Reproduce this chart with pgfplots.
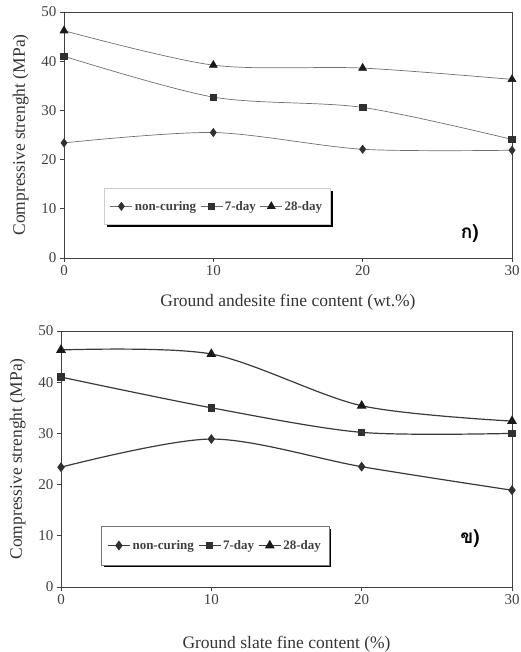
\documentclass[border=0pt]{standalone}
\usepackage{pgfplots}
\pgfplotsset{compat=1.18}
\usepackage{fontspec}
\setmainfont{Liberation Serif}
\newfontfamily\thaifont[Script=Thai]{Loma}
\usetikzlibrary{shadows}
\makeatletter
\tikzset{nopre/.code={\let\tikz@preactions\pgfutil@empty}}
\makeatother
\definecolor{mk}{HTML}{303030}
\definecolor{lnA}{HTML}{6E6E6E}
\definecolor{lnB}{HTML}{3A3A3A}
\begin{document}
\begin{tikzpicture}
\useasboundingbox (0,0) rectangle (520pt,652pt);
\pgfplotsset{
  common/.style={
    scale only axis,
    xmin=0, xmax=30, ymin=0, ymax=50,
    xtick={0,10,20,30}, ytick={0,10,20,30,40,50},
    tick pos=left, tick align=outside,
    major tick length=4pt,
    axis line style={black!75, line width=0.8pt},
    tick style={black!75, line width=0.8pt},
    /pgf/number format/assume math mode=true,
    ticklabel style={font=\fontsize{15}{15}\selectfont, text=black!75},
    label style={font=\fontsize{17.5}{17.5}\selectfont, text=black!80},
    ylabel={Compressive strenght (MPa)},
    legend columns=3,
    legend style={font=\fontsize{13}{13}\selectfont\bfseries, text=black!75,
      inner xsep=6pt, inner ysep=11pt, draw=black!55,
      drop shadow={shadow xshift=2.5pt, shadow yshift=-2.5pt, fill=black, opacity=1},
      /tikz/every even column/.append style={column sep=2pt}},
    legend image code/.code={
      \draw[nopre, #1, mark=none] (0pt,0pt) -- (22pt,0pt);
      \path[nopre, #1, only marks] plot coordinates {(11pt,0pt)};
    },
  },
}
% top panel
\begin{axis}[common,
  at={(64pt,394pt)}, anchor=south west,
  width=448pt, height=246pt,
  xlabel={Ground andesite fine content (wt.\%)},
  xlabel style={yshift=-12pt},
  ylabel style={yshift=6pt},
  legend style={at={(0.089,0.285)}, anchor=north west, draw=black!20},
]
\addplot[lnA, line width=0.7pt, smooth, tension=0.5, mark=diamond*, mark size=4pt, mark options={fill=mk, draw=mk, solid}]
  coordinates {(0,23.4) (10,25.5) (20,22.1) (30,21.9)};
\addlegendentry{non-curing}
\addplot[lnA, line width=0.7pt, smooth, tension=0.5, mark=square*, mark size=3.2pt, mark options={fill=mk, draw=mk, solid}]
  coordinates {(0,41.0) (10,32.7) (20,30.6) (30,24.1)};
\addlegendentry{7-day}
\addplot[lnA, line width=0.7pt, smooth, tension=0.5, mark=triangle*, mark size=4.5pt, mark options={fill=black!90, draw=black!90, solid}]
  coordinates {(0,46.2) (10,39.2) (20,38.6) (30,36.3)};
\addlegendentry{28-day}
\node[font=\fontsize{19}{19}\selectfont\thaifont\bfseries] at (rel axis cs:0.906,0.10) {ก)};
\end{axis}
% bottom panel
\begin{axis}[common,
  at={(61pt,65pt)}, anchor=south west,
  width=451pt, height=256pt,
  xlabel={Ground slate fine content (\%)},
  xlabel style={yshift=-25pt},
  ylabel style={yshift=6pt},
  legend style={at={(0.089,0.238)}, anchor=north west, inner ysep=12pt},
]
\addplot[lnB, line width=1.2pt, smooth, tension=0.5, mark=diamond*, mark size=4pt, mark options={fill=mk, draw=mk, solid}]
  coordinates {(0,23.4) (10,28.9) (20,23.5) (30,18.9)};
\addlegendentry{non-curing}
\addplot[lnB, line width=1.2pt, smooth, tension=0.5, mark=square*, mark size=3.2pt, mark options={fill=mk, draw=mk, solid}]
  coordinates {(0,41.0) (10,35.0) (20,30.2) (30,30.0)};
\addlegendentry{7-day}
\addplot[lnB, line width=1.2pt, smooth, tension=0.5, mark=triangle*, mark size=4.5pt, mark options={fill=black!90, draw=black!90, solid}]
  coordinates {(0,46.3) (10,45.5) (20,35.4) (30,32.4)};
\addlegendentry{28-day}
\node[font=\fontsize{19}{19}\selectfont\thaifont\bfseries] at (rel axis cs:0.907,0.19) {ข)};
\end{axis}
\end{tikzpicture}
\end{document}
